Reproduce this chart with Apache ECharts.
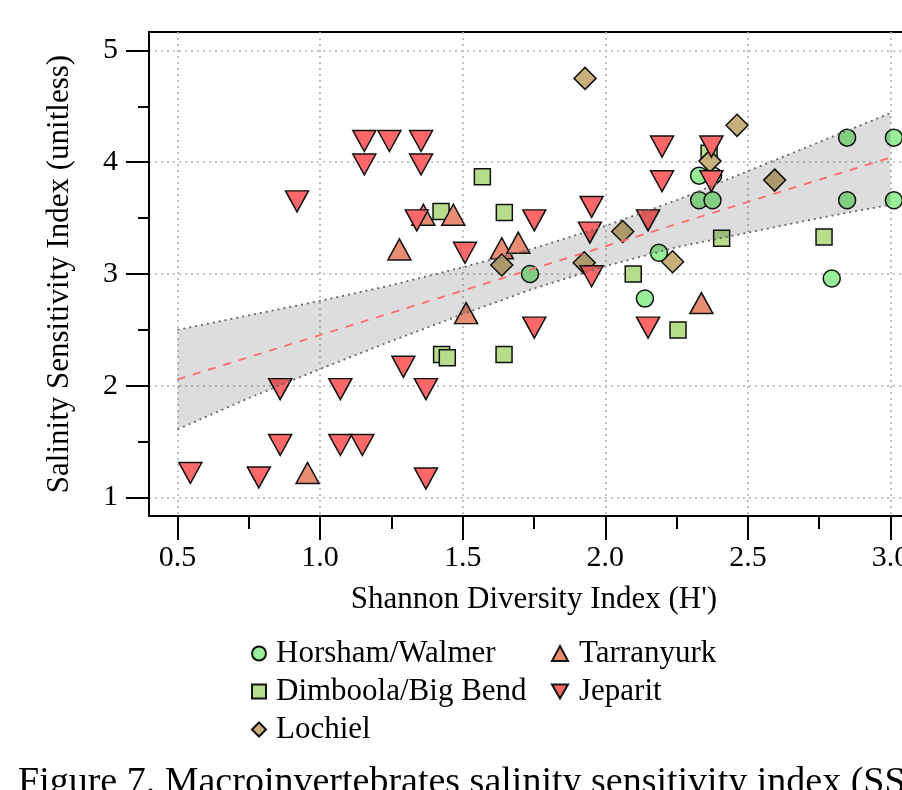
<!DOCTYPE html>
<html>
<head>
<meta charset="utf-8">
<script src="https://cdn.jsdelivr.net/npm/echarts@6/dist/echarts.min.js"></script>
<style>
  html, body { margin: 0; padding: 0; background: #fff; overflow: hidden; }
  /* a bit wider than the window: the plot box runs past the right edge */
  #chart { width: 922px; height: 790px; }
</style>
</head>
<body>
<div id="chart"></div>
<script>
'use strict'

// site groups, [H', SSI]
var horsham = [[1.736,3.00],[2.139,2.78],[2.188,3.19],[2.329,3.88],[2.378,3.88],[2.329,3.66],[2.376,3.66],[2.848,4.22],[3.012,4.22],[2.848,3.66],[3.012,3.66],[2.794,2.96]]
var dimboola = [[1.424,3.56],[1.569,3.87],[1.646,3.55],[1.426,2.28],[1.446,2.25],[1.645,2.28],[2.098,3.00],[2.408,3.32],[2.767,3.33],[2.255,2.50],[2.364,4.08]]
var tarranyurk = [[0.956,1.22],[1.278,3.22],[1.362,3.53],[1.467,3.53],[1.512,2.65],[1.637,3.23],[1.695,3.28],[2.337,2.74]]
var lochiel = [[1.929,4.75],[1.637,3.08],[1.926,3.10],[2.061,3.38],[2.236,3.11],[2.367,4.01],[2.462,4.33],[2.594,3.84]]
var jeparit = [[0.545,1.22],[0.785,1.18],[0.860,1.47],[0.860,1.97],[0.919,3.65],[1.071,1.97],[1.071,1.47],[1.148,1.47],[1.292,2.17],[1.371,1.97],[1.371,1.17],[1.155,4.19],[1.155,3.98],[1.243,4.19],[1.354,4.19],[1.354,3.98],[1.339,3.48],[1.508,3.19],[1.751,3.48],[1.751,2.52],[1.952,3.60],[1.946,3.37],[1.952,2.98],[2.150,3.48],[2.150,2.52],[2.199,4.14],[2.199,3.83],[2.372,4.14],[2.372,3.83]]

// fitted line and its confidence band
var fitLine = [[0.5,2.057],[3.0,4.042]]
var bandX = [0.5,0.75,1.0,1.25,1.5,1.75,2.0,2.25,2.5,2.75,3.0]
var bandUpper = [2.50,2.63,2.76,2.90,3.06,3.23,3.43,3.66,3.92,4.18,4.44]
var bandLower = [1.61,1.89,2.15,2.40,2.64,2.87,3.07,3.24,3.37,3.50,3.62]

var xTicks = [0.5,1.0,1.5,2.0,2.5,3.0]
var xMinorTicks = [0.75,1.25,1.75,2.25,2.75]
var yTicks = [1,2,3,4,5]
var yMinorTicks = [1.5,2.5,3.5,4.5]

var FONT = 'Liberation Serif'
var downTri = 'path://M0,0L2,0L1,1.75Z'

function pairs(xs, ys) {
	return xs.map(function (x, i) { return [x, ys[i]] })
}

function pointSeries(name, data, symbol, size, color) {
	return {
		name: name,
		type: 'scatter',
		data: data,
		symbol: symbol,
		symbolSize: size,
		z: 3,
		itemStyle: { color: color, borderColor: '#111', borderWidth: 1.5, opacity: 1 }
	}
}

var myChart = echarts.init(document.getElementById('chart'), null, { renderer: 'canvas' })

var axisLineStyle = { color: '#000', width: 2 }
var gridLineStyle = { color: '#b4b4b4', width: 1.6, type: [2, 4] }

var option = {
	animation: false,
	backgroundColor: '#fff',
	grid: {
		left: 149, top: 32, width: 770, height: 484,
		show: true, borderColor: '#000', borderWidth: 2
	},
	xAxis: [{
		type: 'value', min: 0.4, max: 3.1,
		name: "Shannon Diversity Index (H')",
		nameLocation: 'middle', nameGap: 68,
		nameTextStyle: { fontFamily: FONT, fontSize: 31, color: '#000' },
		axisLine: { show: true, lineStyle: axisLineStyle },
		axisTick: { show: true, inside: false, length: 24, customValues: xTicks, lineStyle: axisLineStyle },
		axisLabel: {
			customValues: xTicks, margin: 27,
			fontFamily: FONT, fontSize: 30, color: '#000',
			formatter: function (v) { return v.toFixed(1) }
		},
		splitLine: { show: true, lineStyle: gridLineStyle }
	}, {
		type: 'value', min: 0.4, max: 3.1, position: 'bottom',
		axisLine: { show: false },
		axisTick: { show: true, length: 13, customValues: xMinorTicks, lineStyle: axisLineStyle },
		axisLabel: { show: false },
		splitLine: { show: false }
	}],
	yAxis: [{
		type: 'value', min: 0.835, max: 5.165,
		name: 'Salinity Sensitivity Index (unitless)',
		nameLocation: 'middle', nameGap: 74, nameRotate: 90,
		nameTextStyle: { fontFamily: FONT, fontSize: 31, color: '#000' },
		axisLine: { show: true, lineStyle: axisLineStyle },
		axisTick: { show: true, length: 23, customValues: yTicks, lineStyle: axisLineStyle },
		axisLabel: { customValues: yTicks, margin: 31, fontFamily: FONT, fontSize: 30, color: '#000' },
		splitLine: { show: true, lineStyle: gridLineStyle }
	}, {
		type: 'value', min: 0.835, max: 5.165, position: 'left',
		axisLine: { show: false },
		axisTick: { show: true, length: 11, customValues: yMinorTicks, lineStyle: axisLineStyle },
		axisLabel: { show: false },
		splitLine: { show: false }
	}],
	legend: [{
		orient: 'vertical', left: 246, top: 633, itemGap: 7,
		itemWidth: 14, itemHeight: 14,
		textStyle: { fontFamily: FONT, fontSize: 31, color: '#000', padding: [0, 0, 0, 5] },
		data: [
			{ name: 'Horsham/Walmer', icon: 'circle' },
			{ name: 'Dimboola/Big Bend', icon: 'rect' },
			{ name: 'Lochiel', icon: 'diamond' }
		]
	}, {
		orient: 'vertical', left: 546, top: 633, itemGap: 7,
		itemWidth: 16, itemHeight: 15,
		textStyle: { fontFamily: FONT, fontSize: 31, color: '#000', padding: [0, 0, 0, 6] },
		data: [
			{ name: 'Tarranyurk', icon: 'triangle' },
			{ name: 'Jeparit', icon: downTri }
		]
	}],
	graphic: [{
		type: 'text', left: 18, top: 764,
		style: {
			text: 'Figure 7. Macroinvertebrates salinity sensitivity index (SSI) and Shannon diversity index',
			fontFamily: FONT, fontSize: 38, fill: '#000'
		}
	}],
	series: [
		pointSeries('Horsham/Walmer', horsham, 'circle', 17, '#99ee99'),
		pointSeries('Dimboola/Big Bend', dimboola, 'rect', 16, '#b6dc8c'),
		pointSeries('Tarranyurk', tarranyurk, 'triangle', [23, 21], '#e88c73'),
		pointSeries('Lochiel', lochiel, 'diamond', [22, 22], '#c8b07c'),
		pointSeries('Jeparit', jeparit, downTri, [23, 21], '#ff6868'),
		{
			// confidence band laid over the points
			type: 'custom',
			z: 5,
			silent: true,
			data: [0],
			renderItem: function (params, api) {
				var up = bandX.map(function (x, i) { return api.coord([x, bandUpper[i]]) })
				var low = bandX.map(function (x, i) { return api.coord([x, bandLower[i]]) }).reverse()
				return {
					type: 'polygon',
					shape: { points: up.concat(low) },
					style: { fill: 'rgba(0,0,0,0.135)' }
				}
			}
		},
		{
			type: 'line', z: 6, silent: true, symbol: 'none',
			data: pairs(bandX, bandUpper),
			lineStyle: { color: '#666', width: 1.8, type: [2, 4] }
		},
		{
			type: 'line', z: 6, silent: true, symbol: 'none',
			data: pairs(bandX, bandLower),
			lineStyle: { color: '#666', width: 1.8, type: [2, 4] }
		},
		{
			type: 'line', z: 7, silent: true, symbol: 'none',
			data: fitLine,
			lineStyle: { color: '#ff6a6a', width: 1.8, type: [8, 8] }
		}
	]
}

myChart.setOption(option)
</script>
</body>
</html>
